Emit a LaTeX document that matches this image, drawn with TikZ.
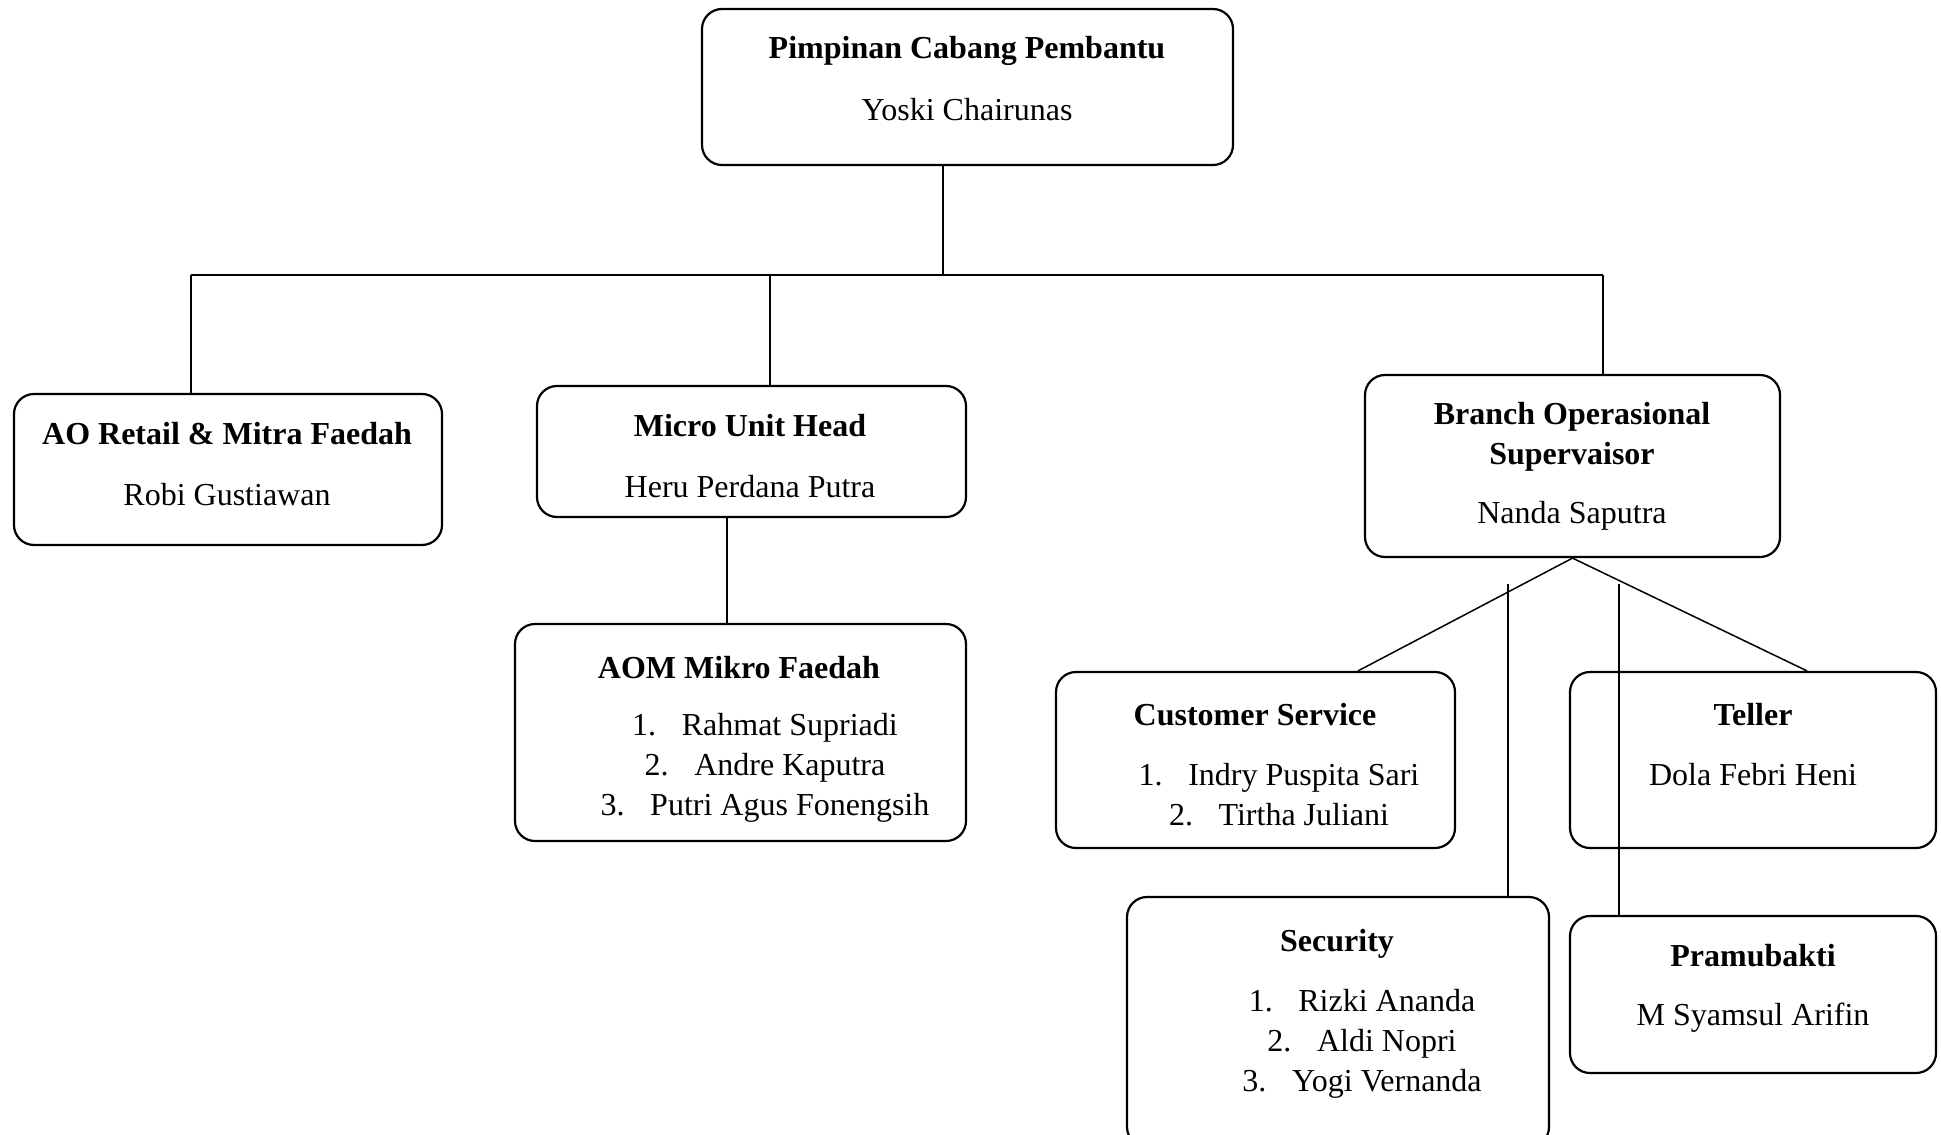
\documentclass[tikz,border=0pt]{standalone}
\usepackage{fontspec}
\setmainfont{Liberation Serif}
\usetikzlibrary{positioning}

\begin{document}
\begin{tikzpicture}[x=0.5pt, y=-0.5pt,
  unit/.style 2 args={draw, line width=1.1pt, rounded corners=10pt,
    minimum width=#1*0.5pt, minimum height=#2*0.5pt, inner sep=0pt},
  post/.style={font=\fontsize{16}{20}\selectfont\bfseries, align=center, inner sep=0pt, yshift=-2pt},
  person/.style={font=\fontsize{16}{20}\selectfont, align=center, inner sep=0pt, yshift=-2pt},
  link/.style={line width=0.75pt}]
  \useasboundingbox (0,0) rectangle (1941,1134);

  % Pimpinan
  \node[unit={531}{156}] (pinca) at (967.5,87) {};
  \node[post] (pinca-t) at (967,47) {Pimpinan Cabang Pembantu};
  \node[person] (pinca-n) at (967,106) {Yoski Chairunas};

  % AO Retail
  \node[unit={428}{151}] (ao) at (228,469.5) {};
  \node[post] (ao-t) at (227,430) {AO Retail \& Mitra Faedah};
  \node[person] (ao-n) at (227,491) {Robi Gustiawan};

  % Micro Unit Head
  \node[unit={429}{131}] (muh) at (751.5,451.5) {};
  \node[post] (muh-t) at (750,422) {Micro Unit Head};
  \node[person] (muh-n) at (750,483) {Heru Perdana Putra};

  % Branch Operasional Supervaisor
  \node[unit={415}{182}] (bos) at (1572.5,466) {};
  \node[post] (bos-t) at (1572,433) {Branch Operasional\\Supervaisor};
  \node[person] (bos-n) at (1572,512) {Nanda Saputra};

  % AOM Mikro Faedah
  \node[unit={451}{217}] (aom) at (740.5,732.5) {};
  \node[post] (aom-t) at (739,664) {AOM Mikro Faedah};
  \node[person] (aom-n) at (765,764) {1.\hspace{0.8em}Rahmat Supriadi\\
    2.\hspace{0.8em}Andre Kaputra\\3.\hspace{0.8em}Putri Agus Fonengsih};

  % Customer Service
  \node[unit={399}{176}] (cs) at (1255.5,760) {};
  \node[post] (cs-t) at (1255,711) {Customer Service};
  \node[person] (cs-n) at (1279,791) {1.\hspace{0.8em}Indry Puspita Sari\\
    2.\hspace{0.8em}Tirtha Juliani};

  % Teller
  \node[unit={366}{176}] (teller) at (1753,760) {};
  \node[post] (teller-t) at (1753,711) {Teller};
  \node[person] (teller-n) at (1753,771) {Dola Febri Heni};

  % Security
  \node[unit={422}{250}] (sec) at (1338,1022) {};
  \node[post] (sec-t) at (1337,940) {Security};
  \node[person] (sec-n) at (1362,1040) {1.\hspace{0.8em}Rizki Ananda\\
    2.\hspace{0.8em}Aldi Nopri\\3.\hspace{0.8em}Yogi Vernanda};

  % Pramubakti
  \node[unit={366}{157}] (pramu) at (1753,994.5) {};
  \node[post] (pramu-t) at (1753,952) {Pramubakti};
  \node[person] (pramu-n) at (1753,1014) {M Syamsul Arifin};

  % Garis
  \coordinate (hub) at (943,275);
  \coordinate (barL) at (191,275);
  \coordinate (barM) at (770,275);
  \coordinate (barR) at (1603,275);
  \coordinate (drop) at (727,517);
  \coordinate (secTop) at (1508,584);
  \coordinate (pramuTop) at (1619,584);

  \draw[link] (pinca.south -| hub) -- (hub);
  \draw[link] (barL) -- (barR);
  \draw[link] (barL) -- (barL |- ao.north);
  \draw[link] (barM) -- (barM |- muh.north);
  \draw[link] (barR) -- (barR |- bos.north);
  \draw[link] (muh.south -| drop) -- (drop |- aom.north);
  \draw[link] (bos.south) -- (cs.north -| 1358,0);
  \draw[link] (bos.south) -- (teller.north -| 1807,0);
  \draw[link] (secTop) -- (secTop |- sec.north);
  \draw[link] (pramuTop) -- (pramuTop |- pramu.north);
\end{tikzpicture}
\end{document}
